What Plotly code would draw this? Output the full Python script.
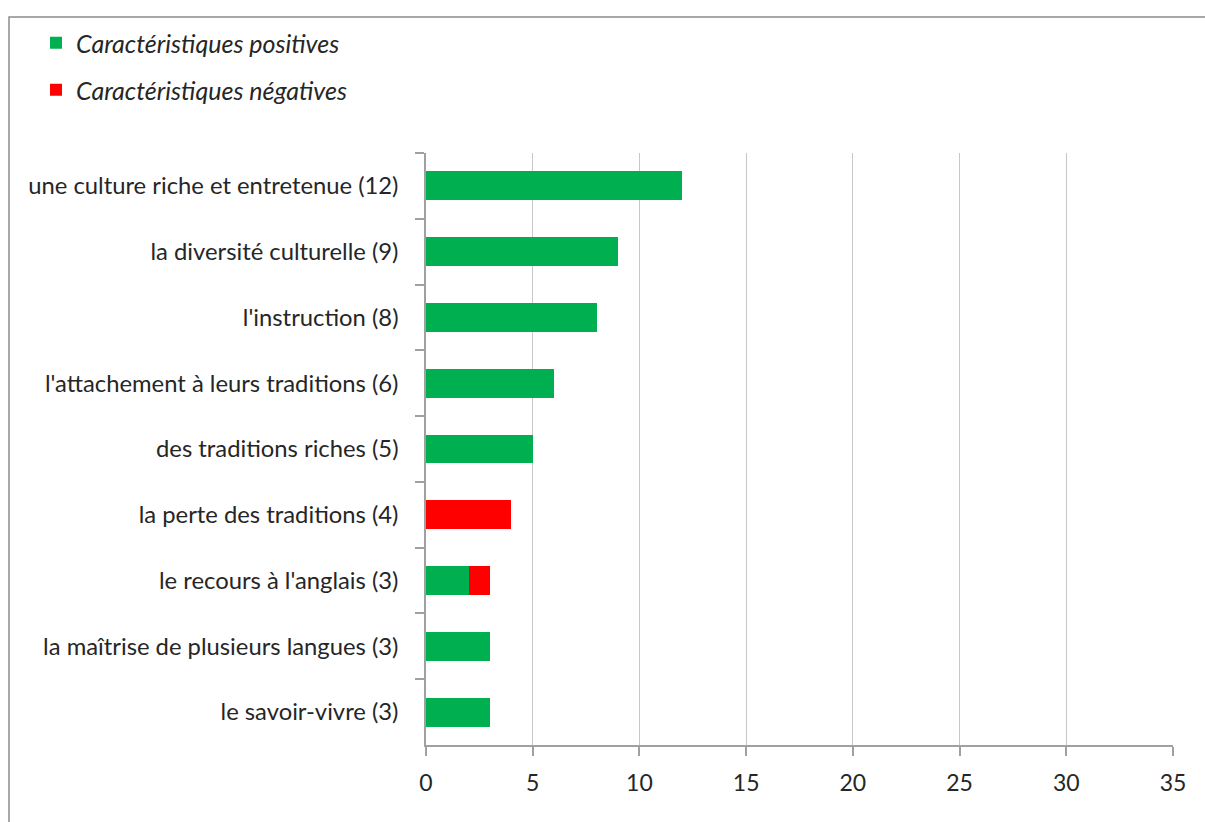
import plotly.graph_objects as go

categories = [
    "une culture riche et entretenue (12)",
    "la diversité culturelle (9)",
    "l'instruction (8)",
    "l'attachement à leurs traditions (6)",
    "des traditions riches (5)",
    "la perte des traditions (4)",
    "le recours à l'anglais (3)",
    "la maîtrise de plusieurs langues (3)",
    "le savoir-vivre (3)",
]
positives = [12, 9, 8, 6, 5, 0, 2, 3, 3]
negatives = [0, 0, 0, 0, 0, 4, 1, 0, 0]
x_ticks = [0, 5, 10, 15, 20, 25, 30, 35]

W, H = 1205, 822
L, R, T, B = 426, 32, 153, 77
pw, ph = W - L - R, H - T - B

def px_x(x):
    return (x - L) / pw

def px_y(y):
    return (H - B - y) / ph

FONT = "Lato"
TXT = "#262626"
fig = go.Figure()
fig.add_trace(go.Bar(
    y=categories, x=positives, orientation="h", name="Caractéristiques positives",
    marker=dict(color="#00B050", line=dict(width=0)), width=0.44, legend="legend",
    showlegend=True,
))
fig.add_trace(go.Bar(
    y=categories, x=negatives, orientation="h", name="Caractéristiques négatives",
    marker=dict(color="#FF0000", line=dict(width=0)), width=0.44, legend="legend2",
    showlegend=True,
))

leg_common = dict(
    xanchor="left", yanchor="middle", bgcolor="rgba(0,0,0,0)",
    font=dict(family=FONT, size=25, color=TXT, style="italic"), itemclick=False,
)
fig.update_layout(
    width=W, height=H,
    margin=dict(l=L, r=R, t=T, b=B, pad=0),
    paper_bgcolor="white", plot_bgcolor="white",
    barmode="stack",
    showlegend=True,
    font=dict(family=FONT, size=24, color=TXT),
    legend=dict(x=px_x(36), y=px_y(43), **leg_common),
    legend2=dict(x=px_x(36), y=px_y(90), **leg_common),
    xaxis=dict(
        range=[0, 35], tickvals=x_ticks, ticktext=[str(v) for v in x_ticks],
        showgrid=True, gridcolor="#C8C8C8", gridwidth=1,
        showline=True, linecolor="#A0A0A0", linewidth=1.5,
        ticks="outside", ticklen=9, tickcolor="#A0A0A0", tickwidth=1.5,
        zeroline=False, fixedrange=True, ticklabelstandoff=8,
        tickfont=dict(family=FONT, size=23, color=TXT),
    ),
    yaxis=dict(
        autorange="reversed", type="category", tickson="boundaries",
        showline=True, linecolor="#A0A0A0", linewidth=1.5,
        ticks="outside", ticklen=9, tickcolor="#A0A0A0", tickwidth=1.5,
        showgrid=False, ticklabelstandoff=21, fixedrange=True,
        tickfont=dict(family=FONT, size=23.8, color=TXT),
    ),
    shapes=[dict(
        type="rect", xref="paper", yref="paper",
        x0=px_x(9), x1=px_x(1212), y0=px_y(830), y1=px_y(17),
        line=dict(color="#8C8C8C", width=1.5), fillcolor="rgba(0,0,0,0)", layer="below",
    )],
)

fig.write_html(
    "out.html",
    config={"displayModeBar": False},
    post_script="document.body.style.margin='0';",
)
